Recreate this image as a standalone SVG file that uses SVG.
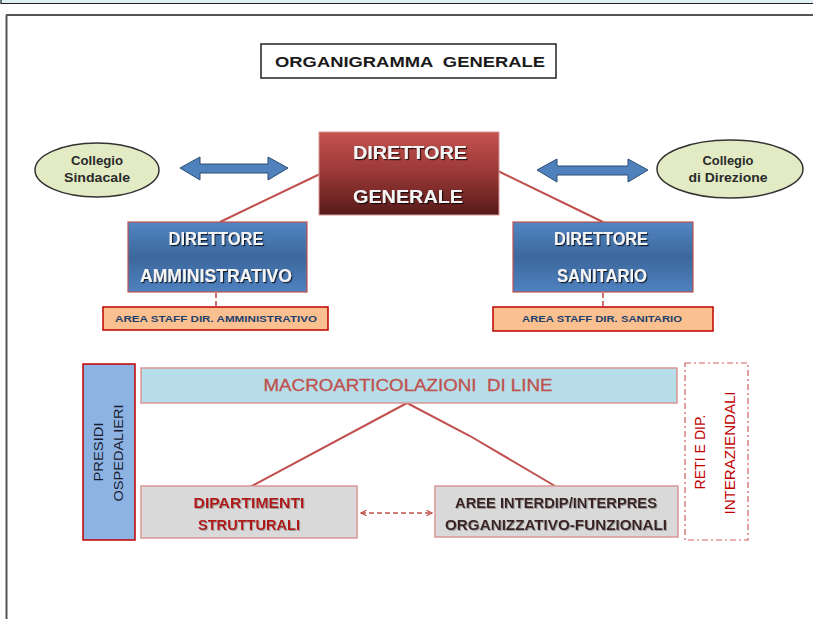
<svg xmlns="http://www.w3.org/2000/svg" width="813" height="619" viewBox="0 0 813 619">
<defs>
<linearGradient id="gRed" x1="0" y1="0" x2="0" y2="1">
<stop offset="0" stop-color="#c4524f"/>
<stop offset="0.5" stop-color="#983836"/>
<stop offset="1" stop-color="#561a19"/>
</linearGradient>
<linearGradient id="gBlue" x1="0" y1="0" x2="0" y2="1">
<stop offset="0" stop-color="#5286c3"/>
<stop offset="0.5" stop-color="#3c679c"/>
<stop offset="1" stop-color="#4f82c0"/>
</linearGradient>
<filter id="sh" x="-10%" y="-30%" width="120%" height="160%">
<feDropShadow dx="1.2" dy="1.2" stdDeviation="0.6" flood-color="#000" flood-opacity="0.75"/>
</filter>
<filter id="shl" x="-10%" y="-30%" width="120%" height="160%">
<feDropShadow dx="1" dy="1" stdDeviation="0.5" flood-color="#888" flood-opacity="0.7"/>
</filter>
<marker id="ah" viewBox="0 0 10 10" refX="9" refY="5" markerWidth="7" markerHeight="7" orient="auto-start-reverse" markerUnits="userSpaceOnUse">
<path d="M1,1 L9,5 L1,9" fill="none" stroke="#c0504d" stroke-width="1.6"/>
</marker>
</defs>
<style>
text{font-family:"Liberation Sans","DejaVu Sans",sans-serif}
.t{font-weight:bold;text-anchor:middle}
.wh{fill:#f4f4f4;font-size:18px;filter:url(#sh)}
.staff{fill:#fac090;stroke:#c00000;stroke-width:1.5}
.st{fill:#1f3f6b;font-size:9px;font-weight:bold;text-anchor:middle}
.ell{fill:#e2ebc4;stroke:#333;stroke-width:1.5}
.et{fill:#2a2a2a;font-size:12px;font-weight:bold;text-anchor:middle}
.arr{fill:#4f81bd;stroke:#2c4d75;stroke-width:1}
.con{stroke:#c0504d;stroke-width:2;fill:none}
.dash{stroke:#c0504d;stroke-width:1.6;stroke-dasharray:5 3;fill:none}
.gray{fill:#d9d9d9;stroke:#d99694;stroke-width:1.5}
</style>
<g id="frame">
<rect x="0" y="0" width="813" height="3" fill="#dff0f5"/>
<line x1="1" y1="3.5" x2="813" y2="3.5" stroke="#222" stroke-width="1.2"/>
<line x1="1" y1="0" x2="1" y2="4" stroke="#222" stroke-width="1.2"/>
<line x1="6" y1="15" x2="813" y2="15" stroke="#555" stroke-width="2"/>
<line x1="6.5" y1="15" x2="6.5" y2="619" stroke="#555" stroke-width="2"/>
</g>
<g id="connectors">
<line class="con" x1="320" y1="174" x2="220" y2="222"/>
<line class="con" x1="498" y1="171" x2="603" y2="222"/>
<line class="dash" x1="216" y1="293" x2="216" y2="307"/>
<line class="dash" x1="603" y1="293" x2="603" y2="307"/>
<line class="con" stroke-width="1.5" x1="407" y1="403" x2="250" y2="487"/>
<polyline class="con" stroke-width="1.5" points="407,403 470,436 555,486"/>
<line class="dash" x1="361" y1="513" x2="432" y2="513" marker-start="url(#ah)" marker-end="url(#ah)"/>
<path id="arrowL" class="arr" d="M180,168 L200,157 L200,164 L268,164 L268,157 L288,168 L268,180 L268,173 L200,173 L200,180 Z"/>
<path id="arrowR" class="arr" d="M537,170 L557,159 L557,166 L628,166 L628,159 L648,170 L628,182 L628,175 L557,175 L557,182 Z"/>
</g>
<g id="title">
<rect x="261" y="44" width="295" height="34" fill="#fff" stroke="#222" stroke-width="1.5"/>
<text x="410" y="67" class="t" font-size="15" fill="#1a1a1a" textLength="270" lengthAdjust="spacingAndGlyphs" xml:space="preserve">ORGANIGRAMMA  GENERALE</text>
</g>
<g id="collegio-sindacale">
<ellipse class="ell" cx="97" cy="170" rx="62" ry="27"/>
<text x="97" y="165" class="et" textLength="52" lengthAdjust="spacingAndGlyphs">Collegio</text>
<text x="97" y="182" class="et" textLength="66" lengthAdjust="spacingAndGlyphs">Sindacale</text>
</g>
<g id="collegio-direzione">
<ellipse class="ell" cx="730" cy="169" rx="73" ry="29"/>
<text x="728" y="165" class="et" textLength="51" lengthAdjust="spacingAndGlyphs">Collegio</text>
<text x="728" y="182" class="et" textLength="79" lengthAdjust="spacingAndGlyphs">di Direzione</text>
</g>
<g id="direttore-generale">
<rect x="319" y="132" width="180" height="83" fill="url(#gRed)" stroke="#d99694" stroke-width="1"/>
<text x="410" y="159" class="t wh" textLength="114" lengthAdjust="spacingAndGlyphs">DIRETTORE</text>
<text x="408" y="203" class="t wh" textLength="110" lengthAdjust="spacingAndGlyphs">GENERALE</text>
</g>
<g id="direttore-amministrativo">
<rect x="128" y="222" width="179" height="70" fill="url(#gBlue)" stroke="#c0504d" stroke-width="1.2"/>
<text x="216" y="245" class="t wh" font-size="17" textLength="95" lengthAdjust="spacingAndGlyphs">DIRETTORE</text>
<text x="216" y="282" class="t wh" font-size="17" textLength="152" lengthAdjust="spacingAndGlyphs">AMMINISTRATIVO</text>
</g>
<g id="staff-amministrativo">
<rect class="staff" x="103" y="307" width="225" height="23"/>
<text x="216" y="322" class="st" textLength="202" lengthAdjust="spacingAndGlyphs">AREA STAFF DIR. AMMINISTRATIVO</text>
</g>
<g id="direttore-sanitario">
<rect x="513" y="222" width="180" height="70" fill="url(#gBlue)" stroke="#c0504d" stroke-width="1.2"/>
<text x="601" y="245" class="t wh" font-size="17" textLength="94" lengthAdjust="spacingAndGlyphs">DIRETTORE</text>
<text x="602" y="282" class="t wh" font-size="17" textLength="90" lengthAdjust="spacingAndGlyphs">SANITARIO</text>
</g>
<g id="staff-sanitario">
<rect class="staff" x="493" y="307" width="220" height="24"/>
<text x="602" y="322" class="st" textLength="160" lengthAdjust="spacingAndGlyphs">AREA STAFF DIR. SANITARIO</text>
</g>
<g id="presidi-ospedalieri">
<rect x="83" y="364" width="52" height="176" fill="#8db3e2" stroke="#c00000" stroke-width="1.5"/>
<text transform="translate(103,452) rotate(-90)" text-anchor="middle" font-size="13" fill="#1a1a2e" textLength="59" lengthAdjust="spacingAndGlyphs">PRESIDI</text>
<text transform="translate(123,453) rotate(-90)" text-anchor="middle" font-size="13" fill="#1a1a2e" textLength="97" lengthAdjust="spacingAndGlyphs">OSPEDALIERI</text>
</g>
<g id="macroarticolazioni">
<rect x="141" y="368" width="536" height="35" fill="#b7dde8" stroke="#d99694" stroke-width="1.5"/>
<text x="408" y="391" text-anchor="middle" font-size="17" fill="#c0504d" stroke="#c0504d" stroke-width="0.3" textLength="289" lengthAdjust="spacingAndGlyphs" xml:space="preserve">MACROARTICOLAZIONI  DI LINE</text>
</g>
<g id="dipartimenti">
<rect class="gray" x="141" y="486" width="216" height="52"/>
<text x="249" y="508" class="t" font-size="14" fill="#b01818" filter="url(#shl)" textLength="111" lengthAdjust="spacingAndGlyphs">DIPARTIMENTI</text>
<text x="249" y="530" class="t" font-size="14" fill="#b01818" filter="url(#shl)" textLength="102" lengthAdjust="spacingAndGlyphs">STRUTTURALI</text>
</g>
<g id="aree">
<rect class="gray" x="435" y="486" width="243" height="51"/>
<text x="556" y="508" text-anchor="middle" font-size="14" font-weight="bold" fill="#3a2222" filter="url(#shl)" textLength="202" lengthAdjust="spacingAndGlyphs">AREE INTERDIP/INTERPRES</text>
<text x="556" y="530" text-anchor="middle" font-size="14" font-weight="bold" fill="#3a2222" filter="url(#shl)" textLength="222" lengthAdjust="spacingAndGlyphs">ORGANIZZATIVO-FUNZIONALI</text>
</g>
<g id="reti">
<rect x="685" y="363" width="63" height="177" fill="#fff" stroke="#d0605d" stroke-width="1.2" stroke-dasharray="6 3 2 3"/>
<text transform="translate(705,452) rotate(-90)" text-anchor="middle" font-size="14" fill="#c00000" textLength="75" lengthAdjust="spacingAndGlyphs">RETI E DIP.</text>
<text transform="translate(735,453) rotate(-90)" text-anchor="middle" font-size="14" fill="#c00000" textLength="123" lengthAdjust="spacingAndGlyphs">INTERAZIENDALI</text>
</g>
</svg>
